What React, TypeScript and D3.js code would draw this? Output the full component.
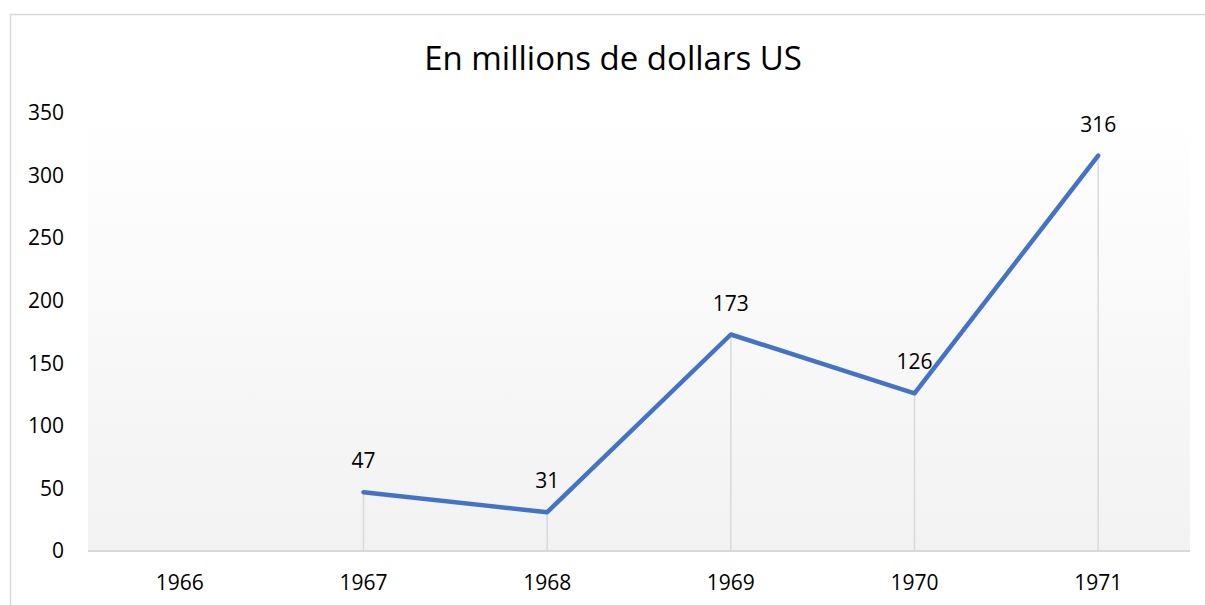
import * as d3 from "d3";
import { useEffect } from "react";

const years = ["1966", "1967", "1968", "1969", "1970", "1971"];
const values: (number | null)[] = [null, 47, 31, 173, 126, 316];
const yTicks = [0, 50, 100, 150, 200, 250, 300, 350];
const title = "En millions de dollars US";

const W = 1205;
const H = 605;
const margin = { top: 113, right: 15, bottom: 54, left: 88 };
const FONT = "'Open Sans', 'Noto Sans', sans-serif";

export default function App() {
  useEffect(() => {
    document.body.style.margin = "0";
  }, []);

  const x = d3
    .scaleBand<string>()
    .domain(years)
    .range([margin.left, W - margin.right]);
  const y = d3
    .scaleLinear()
    .domain([0, 350])
    .range([H - margin.bottom, margin.top]);

  const points = years
    .map((yr, i) => ({ yr, v: values[i] }))
    .filter((d) => d.v !== null) as { yr: string; v: number }[];

  const cx = (yr: string) => (x(yr) ?? 0) + x.bandwidth() / 2;

  const line = d3
    .line<{ yr: string; v: number }>()
    .x((d) => cx(d.yr))
    .y((d) => y(d.v));

  const y0 = y(0);

  return (
    <svg width={W} height={H} style={{ display: "block" }} fontFamily={FONT}>
      <defs>
        <linearGradient id="plotBg" x1="0" y1="0" x2="0" y2="1">
          <stop offset="0" stopColor="#ffffff" />
          <stop offset="1" stopColor="#f2f2f2" />
        </linearGradient>
      </defs>
      <rect x={0} y={0} width={W} height={H} fill="#ffffff" />
      <rect
        x={10.5}
        y={14.5}
        width={W + 20}
        height={H + 20}
        fill="none"
        stroke="#d9d9d9"
        strokeWidth={1.5}
      />
      <text
        x={613}
        y={70}
        textAnchor="middle"
        fontSize={33}
        fill="#000000"
      >
        {title}
      </text>

      <rect
        x={margin.left}
        y={margin.top}
        width={W - margin.right - margin.left}
        height={y0 - margin.top}
        fill="url(#plotBg)"
      />

      {yTicks.map((t) => (
        <text
          key={t}
          x={64}
          y={y(t)}
          dy="0.35em"
          textAnchor="end"
          fontSize={21}
          fill="#000000"
        >
          {t}
        </text>
      ))}

      {points.map((d) => (
        <line
          key={"drop" + d.yr}
          x1={cx(d.yr)}
          x2={cx(d.yr)}
          y1={y(d.v)}
          y2={y0}
          stroke="#d9d9d9"
          strokeWidth={1.5}
        />
      ))}

      <line
        x1={margin.left}
        x2={W - margin.right}
        y1={y0}
        y2={y0}
        stroke="#d9d9d9"
        strokeWidth={2}
      />

      {years.map((yr) => (
        <text
          key={yr}
          x={cx(yr)}
          y={590}
          textAnchor="middle"
          fontSize={21}
          fill="#000000"
        >
          {yr}
        </text>
      ))}

      <path
        d={line(points) ?? ""}
        fill="none"
        stroke="#4472c4"
        strokeWidth={4.5}
        strokeLinejoin="round"
        strokeLinecap="round"
      />

      {points.map((d) => (
        <text
          key={"lbl" + d.yr}
          x={cx(d.yr)}
          y={y(d.v) - 24}
          textAnchor="middle"
          fontSize={21}
          fill="#000000"
        >
          {d.v}
        </text>
      ))}
    </svg>
  );
}
